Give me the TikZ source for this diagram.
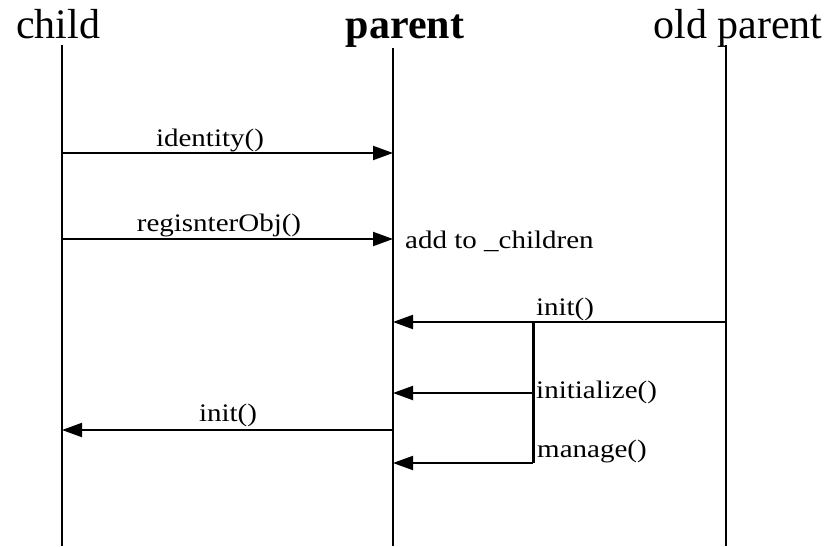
\documentclass[tikz,border=0pt]{standalone}
\usepackage{fontspec}
\setmainfont{Liberation Serif}
\usetikzlibrary{arrows.meta}
\tikzset{
  lifeline/.style={line width=2pt},
  msg/.style={line width=2pt,-{Triangle[length=20pt,width=14pt]}},
  head/.style={inner sep=0pt,font=\fontsize{42}{48}\selectfont},
  lbl/.style={inner sep=0pt,font=\fontsize{29}{34}\selectfont},
}
\newcommand\squash[1]{\scalebox{1}[0.87]{#1}}
\begin{document}
\begin{tikzpicture}[x=1pt,y=-1pt]
\useasboundingbox (0,0) rectangle (826,546);
% headers
\node[head,anchor=base] (hchild) at (58,38) {child};
\node[head,anchor=base] (hparent) at (405,38) {\textbf{parent}};
\node[head,anchor=base] (hold) at (738,38) {old parent};
% lifelines
\coordinate (ct) at (62,45);   \coordinate (cb) at (62,546);
\coordinate (pt) at (393,48);  \coordinate (pb) at (393,546);
\coordinate (ot) at (726,45);  \coordinate (ob) at (726,546);
\draw[lifeline] (ct) -- (cb);
\draw[lifeline] (pt) -- (pb);
\draw[lifeline] (ot) -- (ob);
% message points
\coordinate (c1) at (62,153);  \coordinate (p1) at (393,153);
\coordinate (c2) at (62,239);  \coordinate (p2) at (393,239);
\coordinate (o3) at (726,322); \coordinate (p3) at (393,322); \coordinate (b3) at (533,322);
\coordinate (b4) at (533,393); \coordinate (p4) at (393,393);
\coordinate (b5) at (533,463); \coordinate (p5) at (393,463);
\coordinate (p6) at (393,430); \coordinate (c6) at (62,430);
% messages
\draw[msg] (c1) -- (p1);
\draw[msg] (c2) -- (p2);
\draw[msg] (o3) -- (p3);
\draw[line width=3pt] (b3) -- (b5);
\draw[msg] (b4) -- (p4);
\draw[msg] (b5) -- (p5);
\draw[msg] (p6) -- (c6);
% labels
\node[lbl,anchor=base] (l1) at (210,146) {\squash{identity()}};
\node[lbl,anchor=base] (l2) at (219,231) {\squash{regisnterObj()}};
\node[lbl,anchor=base west] (l2b) at (405,248) {\squash{add to \_children}};
\node[lbl,anchor=base] (l3) at (565,315) {\squash{init()}};
\node[lbl,anchor=base west] (l4) at (536,398) {\squash{initialize()}};
\node[lbl,anchor=base west] (l5) at (537,457) {\squash{manage()}};
\node[lbl,anchor=base] (l6) at (228,421) {\squash{init()}};
\end{tikzpicture}
\end{document}
